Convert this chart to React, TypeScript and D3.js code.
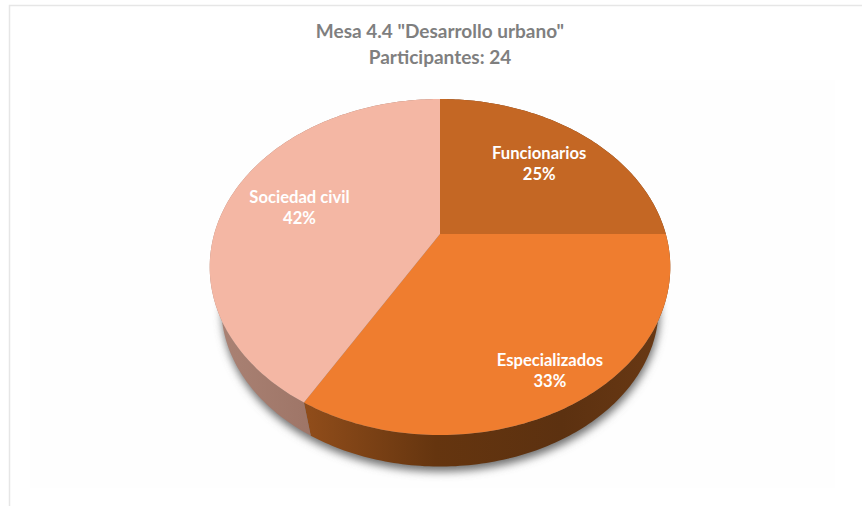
import React from "react";
import * as d3 from "d3";

const categories = ["Funcionarios", "Especializados", "Sociedad civil"];
const participants = [6, 8, 10];
const percentLabels = ["25%", "33%", "42%"];
const titleLines = ['Mesa 4.4 "Desarrollo urbano"', "Participantes: 24"];

const topColors = ["#C46724", "#EF7D2F", "#F4B7A4"];
const labelRadius = [0.68, 0.835, 0.666];

const width = 862;
const height = 506;
const cx = 440;

// perspective of the tilted disc: the pie centre sits above the ellipse centre
const apexY = 234;
const ellipseY = 266;
const spreadX = 225.8;
const spreadY = 115.55;
const tilt = -0.1964;
const depth = 40;
const bottomScale = 0.95;

type P = [number, number];

const project = (angle: number, r: number, lower = false): P => {
  const u = Math.sin(angle) * r;
  const v = -Math.cos(angle) * r;
  const den = 1 + tilt * v;
  const x = (spreadX * u) / den;
  const y = (apexY + spreadY * v) / den;
  if (!lower) return [cx + x, y];
  return [cx + x * bottomScale, ellipseY + depth + (y - ellipseY) * bottomScale];
};

const line = d3.line<P>().curve(d3.curveLinear);

const edge = (a0: number, a1: number, lower = false): P[] => {
  const n = Math.max(2, Math.ceil(Math.abs(a1 - a0) * 60));
  return d3.range(n + 1).map((i) => project(a0 + ((a1 - a0) * i) / n, 1, lower));
};

const slices = d3
  .pie<number>()
  .sort(null)
  .value((d) => d)(participants);

const App: React.FC = () => {
  const full = edge(0, Math.PI * 2, true);
  return (
    <svg
      width={width}
      height={height}
      style={{ position: "absolute", left: 0, top: 0 }}
      fontFamily="Lato, 'Open Sans', sans-serif"
    >
      <defs>
        <filter id="shadow" x="-10%" y="-10%" width="120%" height="125%">
          <feGaussianBlur stdDeviation="4.5" />
        </filter>
        <linearGradient id="side0" x1="0" x2="1" y1="0" y2="0">
          <stop offset="0" stopColor="#6b3814" />
          <stop offset="1" stopColor="#6b3814" />
        </linearGradient>
        <linearGradient id="side1" gradientUnits="userSpaceOnUse" x1="310" x2="670" y1="0" y2="0">
          <stop offset="0" stopColor="#8F4C1A" />
          <stop offset="0.35" stopColor="#65350F" />
          <stop offset="0.7" stopColor="#5C3110" />
          <stop offset="1" stopColor="#6A3914" />
        </linearGradient>
        <linearGradient id="side2" gradientUnits="userSpaceOnUse" x1="225" x2="311" y1="0" y2="0">
          <stop offset="0" stopColor="#A98173" />
          <stop offset="1" stopColor="#9E7567" />
        </linearGradient>
      </defs>

      <rect x={0} y={0} width={width} height={height} fill="#ffffff" />
      <rect x={30} y={80} width={805} height={408} fill="#fefefe" />
      <path d={`M${width},5.5H9.5V${height}`} fill="none" stroke="#e6e6e6" strokeWidth={1.5} />

      <path
        d={line(full.map(([x, y]) => [x + 1, y + 5] as P)) + "Z"}
        fill="#707070"
        filter="url(#shadow)"
      />

      {slices.map((s, i) => (
        <path
          key={`side-${i}`}
          d={line([...edge(s.startAngle, s.endAngle), ...edge(s.endAngle, s.startAngle, true)]) + "Z"}
          fill={`url(#side${i})`}
        />
      ))}

      {slices.map((s, i) => (
        <path
          key={`top-${i}`}
          d={line([[cx, apexY], ...edge(s.startAngle, s.endAngle)]) + "Z"}
          fill={topColors[i]}
        />
      ))}

      {slices.map((s, i) => {
        const [x, y] = project((s.startAngle + s.endAngle) / 2, labelRadius[i]);
        return (
          <text
            key={`label-${i}`}
            x={x}
            textAnchor="middle"
            fill="#ffffff"
            fontSize={16.6}
            fontWeight={700}
          >
            <tspan x={x} y={y - 4}>
              {categories[i]}
            </tspan>
            <tspan x={x} y={y + 17}>
              {percentLabels[i]}
            </tspan>
          </text>
        );
      })}

      {titleLines.map((t, i) => (
        <text
          key={t}
          x={cx}
          y={38 + i * 26}
          textAnchor="middle"
          fill="#7f7f7f"
          fontSize={19}
          fontWeight={700}
        >
          {t}
        </text>
      ))}
    </svg>
  );
};

export default App;
